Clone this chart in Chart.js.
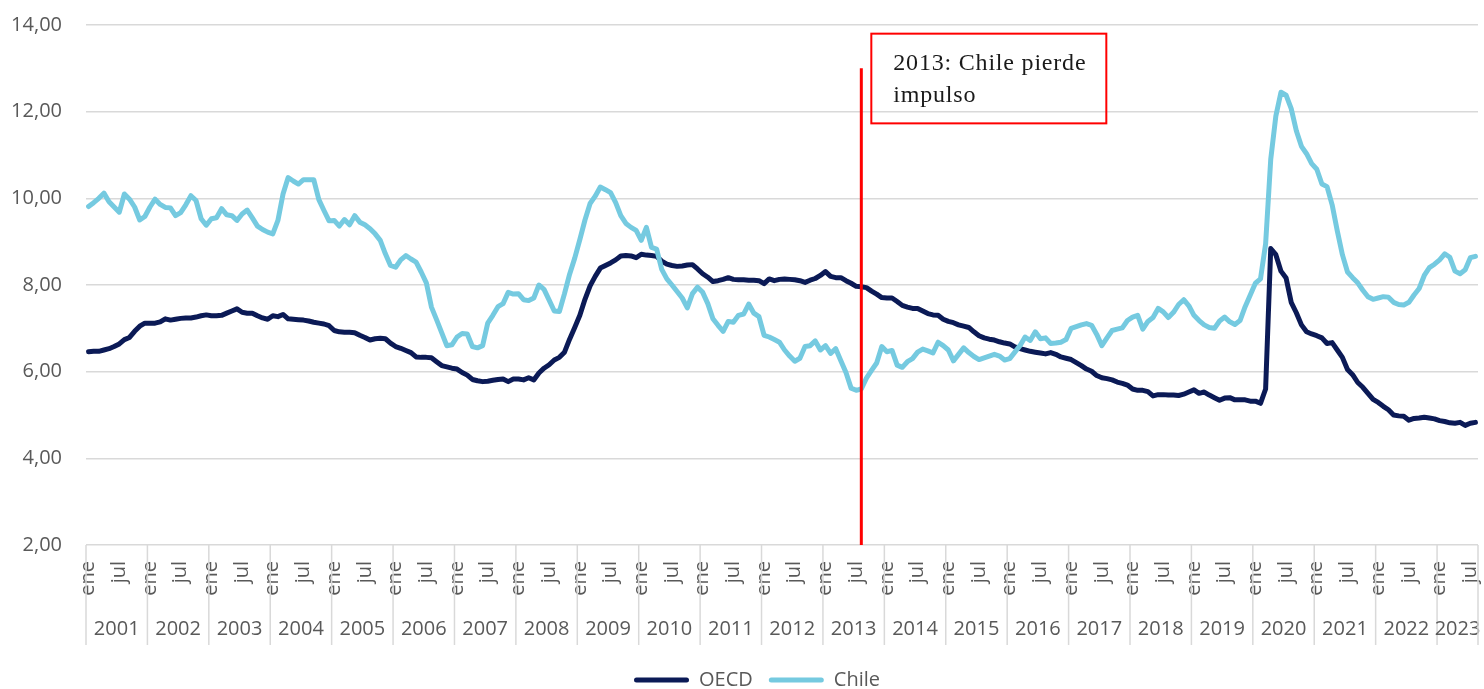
<!DOCTYPE html>
<html lang="es">
<head>
<meta charset="utf-8">
<title>Desempleo OECD y Chile</title>
<script src="https://cdn.jsdelivr.net/npm/chart.js@4.4.1/dist/chart.umd.min.js"></script>
<style>
  html, body { margin: 0; padding: 0; background: #fff; }
  #wrap { width: 1484px; height: 689px; position: relative; }
</style>
</head>
<body>
<div id="wrap"><canvas id="unemployment"></canvas></div>
<script>
const years = [2001, 2002, 2003, 2004, 2005, 2006, 2007, 2008, 2009, 2010, 2011, 2012,
  2013, 2014, 2015, 2016, 2017, 2018, 2019, 2020, 2021, 2022, 2023];
const monthNames = ['ene', 'feb', 'mar', 'abr', 'may', 'jun', 'jul', 'ago', 'sep', 'oct', 'nov', 'dic'];
const shownMonths = ['ene', 'jul'];

// tasa de desempleo, % (ene 2001 - ago 2023)
const oecd = [
  6.46, 6.47, 6.47, 6.50, 6.53, 6.58, 6.64, 6.74, 6.79, 6.93, 7.05, 7.12,
  7.12, 7.12, 7.15, 7.22, 7.19, 7.21, 7.23, 7.24, 7.24, 7.26, 7.29, 7.31,
  7.29, 7.29, 7.30, 7.35, 7.40, 7.45, 7.37, 7.35, 7.35, 7.29, 7.24, 7.21,
  7.29, 7.27, 7.32, 7.22, 7.21, 7.20, 7.19, 7.17, 7.14, 7.12, 7.10, 7.06,
  6.95, 6.92, 6.91, 6.91, 6.90, 6.84, 6.79, 6.73, 6.76, 6.77, 6.76, 6.66,
  6.58, 6.54, 6.49, 6.44, 6.34, 6.33, 6.33, 6.32, 6.23, 6.14, 6.11, 6.08,
  6.06, 5.98, 5.92, 5.82, 5.79, 5.77, 5.78, 5.80, 5.82, 5.83, 5.77, 5.83,
  5.83, 5.81, 5.86, 5.81, 5.97, 6.08, 6.16, 6.27, 6.33, 6.45, 6.75, 7.02,
  7.30, 7.67, 7.98, 8.20, 8.39, 8.45, 8.51, 8.58, 8.67, 8.68, 8.67, 8.63,
  8.71, 8.69, 8.68, 8.66, 8.55, 8.48, 8.45, 8.43, 8.44, 8.46, 8.47, 8.37,
  8.26, 8.18, 8.08, 8.10, 8.13, 8.17, 8.13, 8.12, 8.12, 8.11, 8.11, 8.10,
  8.03, 8.14, 8.10, 8.13, 8.14, 8.13, 8.12, 8.10, 8.06, 8.11, 8.15, 8.22,
  8.31, 8.20, 8.17, 8.17, 8.10, 8.04, 7.97, 7.96, 7.94, 7.86, 7.79, 7.71,
  7.70, 7.70, 7.62, 7.53, 7.49, 7.46, 7.46, 7.40, 7.34, 7.31, 7.30, 7.21,
  7.16, 7.13, 7.08, 7.05, 7.02, 6.92, 6.83, 6.78, 6.75, 6.73, 6.69, 6.66,
  6.64, 6.57, 6.53, 6.50, 6.47, 6.45, 6.43, 6.41, 6.44, 6.40, 6.34, 6.31,
  6.28, 6.21, 6.14, 6.06, 6.01, 5.91, 5.86, 5.84, 5.81, 5.76, 5.73, 5.69,
  5.60, 5.57, 5.57, 5.54, 5.44, 5.47, 5.47, 5.46, 5.46, 5.45, 5.48, 5.53,
  5.58, 5.50, 5.53, 5.46, 5.40, 5.34, 5.39, 5.40, 5.35, 5.35, 5.35, 5.32,
  5.32, 5.27, 5.60, 8.84, 8.70, 8.32, 8.16, 7.60, 7.36, 7.08, 6.92, 6.87,
  6.83, 6.78, 6.65, 6.67, 6.50, 6.33, 6.05, 5.93, 5.75, 5.64, 5.50, 5.36,
  5.29, 5.20, 5.12, 5.00, 4.98, 4.97, 4.88, 4.92, 4.93, 4.95, 4.93, 4.91,
  4.87, 4.85, 4.82, 4.81, 4.83, 4.76, 4.81, 4.83
];
const chile = [
  9.81, 9.90, 10.00, 10.12, 9.92, 9.80, 9.68, 10.10, 9.98, 9.80, 9.50, 9.58,
  9.80, 9.98, 9.86, 9.79, 9.78, 9.60, 9.67, 9.85, 10.06, 9.95, 9.53, 9.38,
  9.53, 9.55, 9.76, 9.62, 9.60, 9.49, 9.64, 9.73, 9.55, 9.36, 9.28, 9.22,
  9.18, 9.49, 10.10, 10.48, 10.40, 10.33, 10.43, 10.43, 10.43, 9.97, 9.72, 9.48,
  9.49, 9.36, 9.51, 9.39, 9.60, 9.45, 9.39, 9.30, 9.18, 9.03, 8.72, 8.45,
  8.41, 8.58, 8.68, 8.60, 8.53, 8.30, 8.05, 7.49, 7.20, 6.90, 6.60, 6.62,
  6.80, 6.88, 6.87, 6.58, 6.55, 6.60, 7.12, 7.30, 7.50, 7.57, 7.83, 7.79,
  7.80, 7.66, 7.64, 7.70, 8.00, 7.90, 7.65, 7.40, 7.39, 7.80, 8.25, 8.62,
  9.05, 9.50, 9.88, 10.05, 10.26, 10.20, 10.13, 9.90, 9.60, 9.42, 9.33, 9.26,
  9.03, 9.33, 8.87, 8.83, 8.36, 8.14, 8.00, 7.85, 7.70, 7.47, 7.80, 7.95,
  7.83, 7.57, 7.22, 7.07, 6.93, 7.16, 7.14, 7.30, 7.33, 7.56, 7.35, 7.27,
  6.84, 6.80, 6.74, 6.68, 6.50, 6.36, 6.24, 6.31, 6.58, 6.60, 6.71, 6.50,
  6.60, 6.42, 6.53, 6.25, 5.98, 5.62, 5.57, 5.60, 5.85, 6.03, 6.20, 6.58,
  6.46, 6.49, 6.15, 6.10, 6.23, 6.30, 6.45, 6.52, 6.48, 6.43, 6.68, 6.60,
  6.50, 6.25, 6.40, 6.55, 6.44, 6.35, 6.28, 6.32, 6.36, 6.40, 6.36, 6.27,
  6.30, 6.45, 6.60, 6.80, 6.72, 6.92, 6.76, 6.78, 6.65, 6.66, 6.68, 6.74,
  7.00, 7.04, 7.08, 7.11, 7.07, 6.86, 6.60, 6.78, 6.95, 6.98, 7.01, 7.18,
  7.26, 7.30, 6.98, 7.16, 7.25, 7.46, 7.38, 7.25, 7.37, 7.55, 7.66, 7.52,
  7.30, 7.18, 7.08, 7.02, 7.00, 7.17, 7.26, 7.15, 7.09, 7.18, 7.50, 7.77,
  8.04, 8.14, 8.95, 10.90, 11.90, 12.45, 12.38, 12.07, 11.56, 11.20, 11.03, 10.80,
  10.67, 10.33, 10.27, 9.85, 9.25, 8.70, 8.30, 8.17, 8.05, 7.88, 7.73, 7.67,
  7.70, 7.73, 7.72, 7.60, 7.55, 7.54, 7.60, 7.77, 7.92, 8.22, 8.40, 8.48,
  8.58, 8.72, 8.64, 8.32, 8.26, 8.35, 8.63, 8.66
];

const noteLines = ['2013: Chile pierde', 'impulso'];
const noteMonth = 'ago 2013';
const noteTop = 13;

// "ene 2001", "feb 2001", ...
const labels = oecd.map((v, i) => monthNames[i % 12] + ' ' + years[Math.floor(i / 12)]);

Chart.defaults.font.family = "'Open Sans', sans-serif";
Chart.defaults.font.size = 20;
Chart.defaults.color = '#595959';

// year row under the month ticks, with the separators
const yearRows = {
    id: 'yearRows',
    afterLayout(chart) {
        // legend sits a bit right of the canvas centre in the original
        chart.legend.left = 36;
    },
    afterDraw(chart) {
        const x = chart.scales.x;
        const ctx = chart.ctx;
        const step = x.getPixelForValue(1) - x.getPixelForValue(0);
        const top = x.top;
        const bottom = x.top + 100;
        ctx.save();
        ctx.strokeStyle = '#D9D9D9';
        ctx.lineWidth = 1.5;
        ctx.fillStyle = '#595959';
        ctx.font = "20px 'Open Sans'";
        ctx.textAlign = 'center';
        ctx.textBaseline = 'middle';
        years.forEach((yr, k) => {
            const first = k * 12;
            const last = Math.min(first + 11, labels.length - 1);
            const left = x.getPixelForValue(first) - step / 2;
            const right = x.getPixelForValue(last) + step / 2;
            ctx.beginPath();
            ctx.moveTo(left, top);
            ctx.lineTo(left, bottom);
            ctx.stroke();
            ctx.fillText(String(yr), (left + right) / 2, top + 84);
        });
        ctx.beginPath();
        ctx.moveTo(x.right, top);
        ctx.lineTo(x.right, bottom);
        ctx.stroke();
        ctx.restore();
    }
};

// red marker + note box
const noteBox = {
    id: 'noteBox',
    afterDatasetsDraw(chart) {
        const {ctx, scales: {x, y}} = chart;
        const px = x.getPixelForValue(labels.indexOf(noteMonth));
        ctx.save();
        ctx.strokeStyle = '#FF0000';
        ctx.lineWidth = 3;
        ctx.beginPath();
        ctx.moveTo(px, y.getPixelForValue(noteTop));
        ctx.lineTo(px, y.getPixelForValue(2));
        ctx.stroke();

        const bx = px + 10;
        const by = y.getPixelForValue(13.8);
        const bh = y.getPixelForValue(11.73) - by;
        ctx.lineWidth = 2;
        ctx.strokeRect(bx, by, 235, bh);

        ctx.fillStyle = '#1a1a1a';
        ctx.font = "24px 'Liberation Serif'";
        ctx.textAlign = 'left';
        ctx.textBaseline = 'alphabetic';
        ctx.letterSpacing = '0.8px';
        noteLines.forEach((t, i) => ctx.fillText(t, bx + 22, by + 36 + i * 32));
        ctx.restore();
    }
};

const ctx = document.getElementById('unemployment').getContext('2d');
const chart_unemployment = new Chart(ctx, {
    type: 'line',
    data: {
        labels: labels,
        datasets: [{
            label: 'OECD',
            data: oecd,
            borderColor: '#0B1A56',
            backgroundColor: '#0B1A56',
            borderWidth: 5,
            order: 2
        }, {
            label: 'Chile',
            data: chile,
            borderColor: '#75CAE0',
            backgroundColor: '#75CAE0',
            borderWidth: 5,
            order: 1
        }]
    },
    options: {
        responsive: true,
        maintainAspectRatio: false,
        animation: false,
        layout: { padding: { left: 4, right: 6, top: 25, bottom: 0 } },
        elements: {
            point: { radius: 0, hoverRadius: 0 },
            line: { tension: 0, borderJoinStyle: 'round', borderCapStyle: 'round' }
        },
        scales: {
            x: {
                offset: true,
                grid: { display: false, drawTicks: false },
                border: { display: false },
                ticks: {
                    autoSkip: false,
                    minRotation: 90,
                    maxRotation: 90,
                    padding: 16,
                    callback(value) {
                        const m = labels[value].split(' ')[0];
                        return shownMonths.includes(m) ? m : '';
                    }
                },
                afterFit(scale) {
                    scale.height = 109;
                    scale.paddingLeft = 0;
                    scale.paddingRight = 0;
                }
            },
            y: {
                min: 2,
                max: 14,
                grid: { color: '#D9D9D9', lineWidth: 1.5, drawTicks: false },
                border: { display: false },
                ticks: {
                    stepSize: 2,
                    padding: 24,
                    callback: (v) => v.toFixed(2).replace('.', ',')
                },
                afterFit(scale) {
                    scale.width = 82;
                    scale.paddingTop = 0;
                    scale.paddingBottom = 0;
                }
            }
        },
        plugins: {
            tooltip: { enabled: false },
            legend: {
                position: 'bottom',
                maxHeight: 35,
                labels: {
                    boxWidth: 55,
                    boxHeight: 5,
                    padding: 16,
                    color: '#595959',
                    sort: (a, b) => a.datasetIndex - b.datasetIndex,
                    generateLabels: (chart) => Chart.defaults.plugins.legend.labels.generateLabels(chart)
                        .map(item => Object.assign(item, { lineWidth: 0, fillStyle: item.strokeStyle, borderRadius: 2.5 }))
                }
            }
        }
    },
    plugins: [yearRows, noteBox]
});
</script>
</body>
</html>
